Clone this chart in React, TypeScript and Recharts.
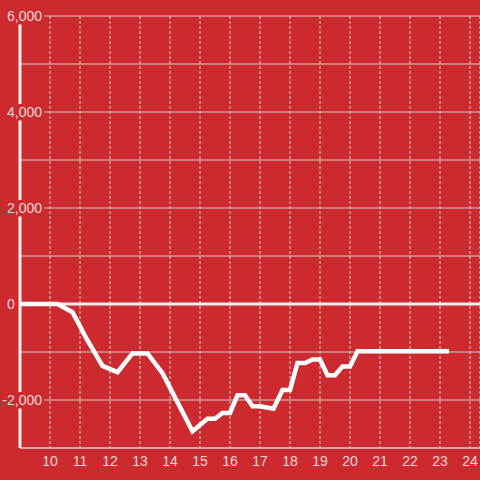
import React from "react";
import { LineChart, Line, XAxis, YAxis, CartesianGrid, ReferenceLine } from "recharts";

const hours = [9, 10.25, 10.75, 11.25, 11.75, 12.25, 12.75, 13.25, 13.75, 14.75, 15.25, 15.5, 15.75, 16, 16.25, 16.5, 16.75, 17, 17.45, 17.75, 18, 18.25, 18.5, 18.75, 19, 19.25, 19.5, 19.75, 20, 20.25, 23.3];
const values = [0, 0, -170, -760, -1290, -1420, -1030, -1030, -1440, -2650, -2390, -2390, -2270, -2270, -1900, -1900, -2130, -2130, -2180, -1790, -1790, -1230, -1230, -1155, -1155, -1485, -1485, -1300, -1300, -985, -985];
const xTicks = [10, 11, 12, 13, 14, 15, 16, 17, 18, 19, 20, 21, 22, 23, 24];
const yTicks = [-3000, -2000, -1000, 0, 1000, 2000, 3000, 4000, 5000, 6000];

const data = hours.map((x, i) => ({ x, v: values[i] }));

const BG = "#cc2a2f";
const TEXT = "#f5d4d5";
const GRID = "#cfcfcf";
const FONT = "'Liberation Sans', Arial, sans-serif";

const charW = (c: string) => (c === "," ? 3.89 : c === "-" ? 4.66 : 7.79);

const YTick = (props: any) => {
  const { x, y, payload } = props;
  const v = payload.value;
  if (v % 2000 !== 0) return <g />;
  const label = v.toLocaleString("en-US");
  const w = label.split("").reduce((s: number, c: string) => s + charW(c), 0);
  const start = x - 13 - (v < 0 ? charW("-") : 0);
  return (
    <g>
      <rect x={start - 1} y={y - 8} width={w + 3} height={16.5} fill={BG} />
      <text x={start} y={y} dy="0.355em" textAnchor="start" fill={TEXT} fontSize={14} fontFamily={FONT}>
        {label}
      </text>
    </g>
  );
};

export default function App() {
  return (
    <div style={{ position: "absolute", left: 0, top: 0, width: 480, height: 480, background: BG }}>
      <LineChart width={480} height={480} data={data} margin={{ top: 16, right: 0, left: 0, bottom: 0 }}>
        <CartesianGrid horizontal={true} vertical={false} stroke={GRID} strokeWidth={1} />
        <CartesianGrid horizontal={false} vertical={true} stroke={GRID} strokeWidth={1} strokeDasharray="3 2" />
        <XAxis
          type="number"
          dataKey="x"
          domain={[9, 24.333]}
          ticks={xTicks}
          allowDataOverflow
          interval={0}
          height={32}
          axisLine={{ stroke: GRID, strokeWidth: 1 }}
          tickLine={false}
          tick={{ fill: TEXT, fontSize: 14, fontFamily: FONT }}
        />
        <YAxis
          type="number"
          domain={[-3000, 6000]}
          ticks={yTicks}
          interval={0}
          width={20}
          axisLine={{ stroke: "#eeeeee", strokeWidth: 3 }}
          tickLine={false}
          tickSize={0}
          tickMargin={0}
          tick={<YTick />}
        />
        <ReferenceLine y={0} stroke="#eeeeee" strokeWidth={3} />
        <Line type="linear" dataKey="v" stroke="#ffffff" strokeWidth={4.5} dot={false} isAnimationActive={false} />
      </LineChart>
    </div>
  );
}
